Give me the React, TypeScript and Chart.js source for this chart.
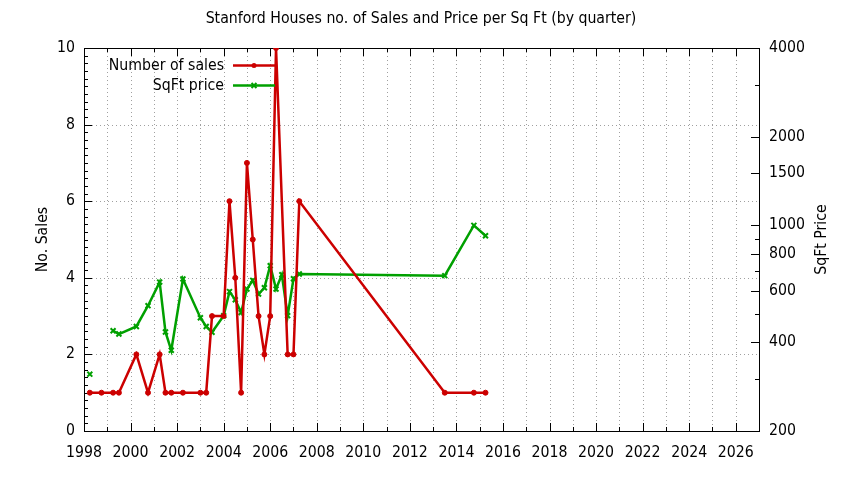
import { useEffect, useRef } from "react"
import { Chart, registerables } from "chart.js"

Chart.register(...registerables)

// quarter positions (decimal year) and values
const quarters = [
  1998.25, 1998.75, 1999.25, 1999.5, 2000.25, 2000.75, 2001.25, 2001.5, 2001.75, 2002.25,
  2003.0, 2003.25, 2003.5, 2004.0, 2004.25, 2004.5, 2004.75, 2005.0, 2005.25, 2005.5,
  2005.75, 2006.0, 2006.25, 2006.5, 2006.75, 2007.0, 2007.25, 2013.5, 2014.75, 2015.25,
]
const sales = [
  1, 1, 1, 1, 2, 1, 2, 1, 1, 1,
  1, 1, 3, 3, 6, 4, 1, 7, 5, 3,
  2, 3, 10, null, 2, 2, 6, 1, 1, 1,
]
const sqftPrice = [
  312, null, 438, 427, 453, 533, 641, 434, 376, 657,
  485, 453, 433, 493, 595, 558, 505, 607, 650, 584,
  613, 729, 607, 679, 493, 658, 683, 674, 999, 921,
]

const yearTicks = [1998, 2000, 2002, 2004, 2006, 2008, 2010, 2012, 2014, 2016, 2018, 2020, 2022, 2024, 2026]
const salesTicks = [0, 2, 4, 6, 8, 10]
const priceTicks = [200, 400, 600, 800, 1000, 1500, 2000, 4000]
const priceMinorTicks = [300, 500, 700, 900, 3000]

const RED = "#cc0000"
const GREEN = "#00a000"
const FONT = "'DejaVu Sans Condensed', 'Liberation Sans Narrow', 'DejaVu Sans', sans-serif"
const FONT_SIZE = 15.7

function drawMarker(ctx: CanvasRenderingContext2D, style: string, x: number, y: number, r: number, color: string, w: number) {
  ctx.save()
  ctx.strokeStyle = color
  ctx.fillStyle = color
  ctx.lineWidth = w
  if (style === "circle") {
    ctx.beginPath()
    ctx.arc(x, y, r, 0, Math.PI * 2)
    ctx.fill()
  } else {
    const d = r * Math.SQRT1_2
    ctx.beginPath()
    ctx.moveTo(x - d, y - d)
    ctx.lineTo(x + d, y + d)
    ctx.moveTo(x + d, y - d)
    ctx.lineTo(x - d, y + d)
    ctx.stroke()
  }
  ctx.restore()
}

// gnuplot look: dotted grid, full frame, inward ticks, titles and key
const gnuplotFrame = {
  id: "gnuplotFrame",
  beforeDatasetsDraw(chart: any) {
    const { ctx, chartArea } = chart
    const { left, right, top, bottom } = chartArea
    const x = chart.scales.x
    const y = chart.scales.y
    const y2 = chart.scales.y2
    ctx.save()
    ctx.strokeStyle = "#a0a0a0"
    ctx.lineWidth = 1
    ctx.setLineDash([1, 3])
    for (let yr = 1999; yr < 2027; yr++) {
      const px = Math.round(x.getPixelForValue(yr)) + 0.5
      ctx.beginPath()
      ctx.moveTo(px, top)
      ctx.lineTo(px, bottom)
      ctx.stroke()
    }
    for (const v of salesTicks.slice(1, -1)) {
      const py = Math.round(y.getPixelForValue(v)) + 0.5
      ctx.beginPath()
      ctx.moveTo(left, py)
      ctx.lineTo(right, py)
      ctx.stroke()
    }
    ctx.setLineDash([])
    ctx.strokeStyle = "#000"
    ctx.strokeRect(left + 0.5, top + 0.5, right - left, bottom - top)
    ctx.beginPath()
    for (let yr = 1998; yr <= 2027; yr++) {
      const px = Math.round(x.getPixelForValue(yr)) + 0.5
      const len = yr % 2 === 0 ? 8 : 4
      ctx.moveTo(px, bottom)
      ctx.lineTo(px, bottom - len)
      ctx.moveTo(px, top)
      ctx.lineTo(px, top + len)
    }
    for (let i = 0; i <= 50; i++) {
      const py = Math.round(y.getPixelForValue(i * 0.2)) + 0.5
      const len = i % 10 === 0 ? 8 : 4
      ctx.moveTo(left, py)
      ctx.lineTo(left + len, py)
    }
    for (const v of priceTicks) {
      const py = Math.round(y2.getPixelForValue(v)) + 0.5
      ctx.moveTo(right, py)
      ctx.lineTo(right - 8, py)
    }
    for (const v of priceMinorTicks) {
      const py = Math.round(y2.getPixelForValue(v)) + 0.5
      ctx.moveTo(right, py)
      ctx.lineTo(right - 4, py)
    }
    ctx.stroke()
    ctx.restore()
  },
  afterDatasetsDraw(chart: any) {
    const { ctx, chartArea } = chart
    ctx.save()
    ctx.fillStyle = "#000"
    ctx.font = `${FONT_SIZE}px ${FONT}`
    ctx.textBaseline = "middle"
    ctx.textAlign = "center"
    ctx.fillText("Stanford Houses no. of Sales and Price per Sq Ft (by quarter)", 421, 19)
    const midY = (chartArea.top + chartArea.bottom) / 2
    ctx.save()
    ctx.translate(43, midY)
    ctx.rotate(-Math.PI / 2)
    ctx.fillText("No. Sales", 0, 0)
    ctx.restore()
    ctx.save()
    ctx.translate(822, midY)
    ctx.rotate(-Math.PI / 2)
    ctx.fillText("SqFt Price", 0, 0)
    ctx.restore()
    const rows = [
      { label: "Number of sales", ds: chart.data.datasets[0], y: 65.5 },
      { label: "SqFt price", ds: chart.data.datasets[1], y: 85.5 },
    ]
    for (const r of rows) {
      ctx.textAlign = "right"
      ctx.fillStyle = "#000"
      ctx.fillText(r.label, 224, r.y)
      ctx.strokeStyle = r.ds.borderColor
      ctx.lineWidth = r.ds.borderWidth
      ctx.beginPath()
      ctx.moveTo(233, r.y)
      ctx.lineTo(275, r.y)
      ctx.stroke()
      drawMarker(ctx, r.ds.pointStyle, 254, r.y, r.ds.pointRadius, r.ds.borderColor, r.ds.pointBorderWidth)
    }
    ctx.restore()
  },
}

export default function App() {
  const canvasRef = useRef<HTMLCanvasElement>(null)
  const chartRef = useRef<Chart | null>(null)

  useEffect(() => {
    if (!canvasRef.current) return
    if (chartRef.current) chartRef.current.destroy()

    Chart.defaults.font.family = FONT
    Chart.defaults.font.size = FONT_SIZE
    Chart.defaults.color = "#000"

    chartRef.current = new Chart(canvasRef.current, {
      type: "line",
      data: {
        datasets: [
          {
            label: "Number of sales",
            data: quarters.map((q, i) => ({ x: q, y: sales[i] })),
            yAxisID: "y",
            borderColor: RED,
            backgroundColor: RED,
            borderWidth: 2.5,
            pointStyle: "circle",
            pointRadius: 2.5,
            pointBorderWidth: 1,
            spanGaps: true,
            tension: 0,
          },
          {
            label: "SqFt price",
            data: quarters.map((q, i) => ({ x: q, y: sqftPrice[i] })),
            yAxisID: "y2",
            borderColor: GREEN,
            backgroundColor: GREEN,
            borderWidth: 2.5,
            pointStyle: "crossRot",
            pointRadius: 3.5,
            pointBorderWidth: 2,
            spanGaps: false,
            tension: 0,
          },
        ],
      },
      options: {
        responsive: false,
        animation: false,
        devicePixelRatio: 1,
        layout: { padding: { top: 48, left: 0, right: 0, bottom: 0 } },
        plugins: {
          legend: { display: false },
          title: { display: false },
          tooltip: { enabled: false },
        },
        scales: {
          x: {
            type: "linear",
            min: 1998,
            max: 2027,
            grid: { display: false, drawTicks: false },
            border: { display: false },
            afterBuildTicks: (s: any) => {
              s.ticks = yearTicks.map((v) => ({ value: v }))
            },
            afterFit: (s: any) => {
              s.height = 49
            },
            ticks: {
              autoSkip: false,
              maxRotation: 0,
              padding: 13,
              callback: (v: any) => String(v),
            },
          },
          y: {
            type: "linear",
            position: "left",
            min: 0,
            max: 10,
            grid: { display: false, drawTicks: false },
            border: { display: false },
            afterBuildTicks: (s: any) => {
              s.ticks = salesTicks.map((v) => ({ value: v }))
            },
            afterFit: (s: any) => {
              s.width = 84
            },
            ticks: { padding: 9, callback: (v: any) => String(v) },
          },
          y2: {
            type: "logarithmic",
            position: "right",
            min: 200,
            max: 4000,
            grid: { display: false, drawTicks: false },
            border: { display: false },
            afterBuildTicks: (s: any) => {
              s.ticks = priceTicks.map((v) => ({ value: v }))
            },
            afterFit: (s: any) => {
              s.width = 85
            },
            ticks: { padding: 10, callback: (v: any) => String(v) },
          },
        },
      } as any,
      plugins: [gnuplotFrame],
    })

    return () => {
      if (chartRef.current) {
        chartRef.current.destroy()
        chartRef.current = null
      }
    }
  }, [])

  return (
    <div style={{ position: "fixed", left: 0, top: 0, width: 844, height: 480, background: "#fff" }}>
      <canvas ref={canvasRef} width={844} height={480} style={{ width: 844, height: 480 }} />
    </div>
  )
}
